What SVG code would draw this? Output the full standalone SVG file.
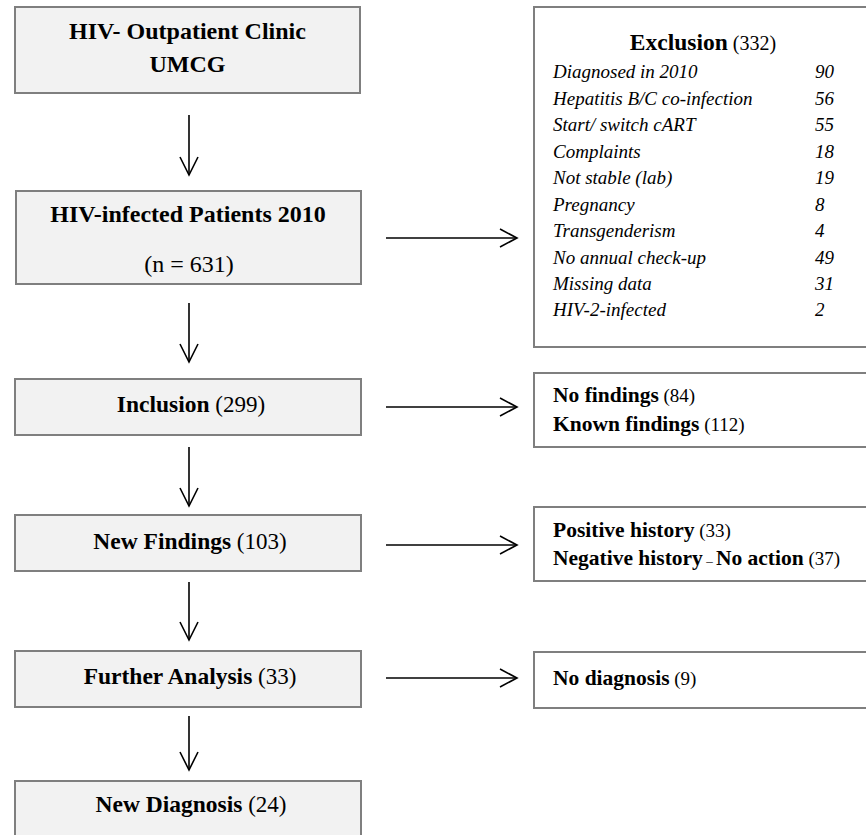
<svg xmlns="http://www.w3.org/2000/svg" width="866" height="835" viewBox="0 0 866 835">
<style>
.main{fill:#f2f2f2;stroke:#7f7f7f;stroke-width:2}
.side{fill:#fff;stroke:#7f7f7f;stroke-width:2}
text{font-family:"Liberation Serif","Times New Roman",serif;fill:#000}
.t{font-weight:bold;font-size:24px}
.lb{font-weight:bold;font-size:23.5px}
.lr{font-weight:normal;font-size:23px}
.rb{font-weight:bold;font-size:21.5px}
.rr{font-weight:normal;font-size:19px}
.it{font-style:italic;font-size:19px}
.conn line,.conn polyline{stroke:#000;stroke-width:1.6;fill:none}
</style>
<rect width="866" height="835" fill="#fff"/>
<g class="conn">
<line x1="189" y1="115" x2="189" y2="175"/><polyline points="180,157 189,175 198,157"/>
<line x1="189" y1="303" x2="189" y2="362"/><polyline points="180,344 189,362 198,344"/>
<line x1="189" y1="447" x2="189" y2="506"/><polyline points="180,488 189,506 198,488"/>
<line x1="189" y1="582" x2="189" y2="640"/><polyline points="180,622 189,640 198,622"/>
<line x1="189" y1="716" x2="189" y2="770"/><polyline points="180,752 189,770 198,752"/>
<line x1="386" y1="238" x2="517" y2="238"/><polyline points="500,229 517,238 500,247"/>
<line x1="386" y1="407" x2="517" y2="407"/><polyline points="500,398 517,407 500,416"/>
<line x1="386" y1="545" x2="517" y2="545"/><polyline points="500,536 517,545 500,554"/>
<line x1="386" y1="678" x2="517" y2="678"/><polyline points="500,669 517,678 500,687"/>
</g>
<g id="clinic"><rect class="main" x="15" y="7" width="345" height="86"/>
<text class="t" x="187.5" y="39" text-anchor="middle">HIV- Outpatient Clinic</text>
<text class="t" x="187.5" y="72" text-anchor="middle">UMCG</text></g>
<g id="patients"><rect class="main" x="16" y="191" width="345" height="93"/>
<text class="t" x="188" y="222" text-anchor="middle">HIV-infected Patients 2010</text>
<text x="189" y="272" text-anchor="middle" style="font-size:24px">(n = 631)</text></g>
<g id="exclusion"><rect class="side" x="534" y="7" width="340" height="340"/>
<text x="703" y="50" text-anchor="middle"><tspan style="font-weight:bold;font-size:23.5px">Exclusion</tspan><tspan style="font-size:20px"> (332)</tspan></text>
<text class="it" x="553" y="78">Diagnosed in 2010</text><text class="it" x="815" y="78">90</text>
<text class="it" x="553" y="105">Hepatitis B/C co-infection</text><text class="it" x="815" y="105">56</text>
<text class="it" x="553" y="131">Start/ switch cART</text><text class="it" x="815" y="131">55</text>
<text class="it" x="553" y="158">Complaints</text><text class="it" x="815" y="158">18</text>
<text class="it" x="553" y="184">Not stable (lab)</text><text class="it" x="815" y="184">19</text>
<text class="it" x="553" y="211">Pregnancy</text><text class="it" x="815" y="211">8</text>
<text class="it" x="553" y="237">Transgenderism</text><text class="it" x="815" y="237">4</text>
<text class="it" x="553" y="264">No annual check-up</text><text class="it" x="815" y="264">49</text>
<text class="it" x="553" y="290">Missing data</text><text class="it" x="815" y="290">31</text>
<text class="it" x="553" y="316">HIV-2-infected</text><text class="it" x="815" y="316">2</text>
</g>
<g id="inclusion"><rect class="main" x="15" y="379" width="346" height="56"/>
<text x="191" y="412" text-anchor="middle"><tspan class="lb">Inclusion</tspan><tspan class="lr"> (299)</tspan></text></g>
<g id="findings"><rect class="side" x="534" y="373" width="340" height="74"/>
<text x="553" y="402"><tspan class="rb">No findings</tspan><tspan class="rr"> (84)</tspan></text>
<text x="553" y="431"><tspan class="rb">Known findings</tspan><tspan class="rr"> (112)</tspan></text></g>
<g id="newfindings"><rect class="main" x="15" y="515" width="346" height="56"/>
<text x="190" y="549" text-anchor="middle"><tspan class="lb">New Findings</tspan><tspan class="lr"> (103)</tspan></text></g>
<g id="history"><rect class="side" x="534" y="507" width="340" height="74"/>
<text x="553" y="537"><tspan class="rb">Positive history</tspan><tspan class="rr"> (33)</tspan></text>
<text x="553" y="565"><tspan class="rb">Negative history</tspan><tspan style="font-size:13px"> – </tspan><tspan class="rb">No action</tspan><tspan class="rr"> (37)</tspan></text></g>
<g id="analysis"><rect class="main" x="15" y="651" width="346" height="56"/>
<text x="190" y="684" text-anchor="middle"><tspan class="lb">Further Analysis</tspan><tspan class="lr"> (33)</tspan></text></g>
<g id="nodiagnosis"><rect class="side" x="534" y="652" width="340" height="56"/>
<text x="553" y="685"><tspan class="rb">No diagnosis</tspan><tspan class="rr"> (9)</tspan></text></g>
<g id="newdiagnosis"><rect class="main" x="15" y="781" width="346" height="60"/>
<text x="191" y="812" text-anchor="middle"><tspan class="lb">New Diagnosis</tspan><tspan class="lr"> (24)</tspan></text></g>
</svg>
